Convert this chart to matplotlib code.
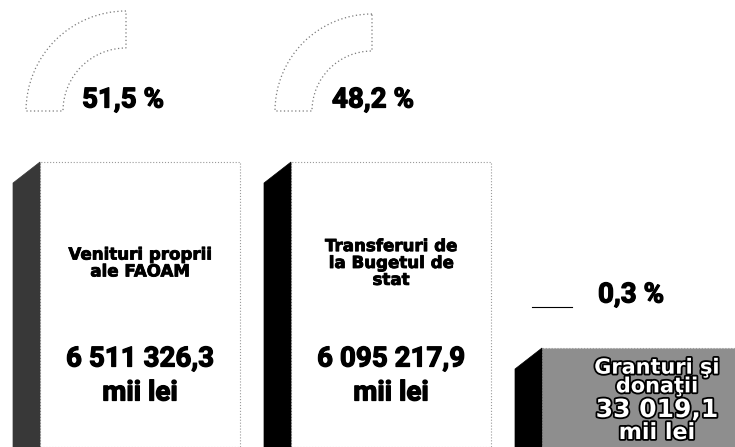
import matplotlib
matplotlib.use("Agg")
import matplotlib.pyplot as plt
from matplotlib.patches import Polygon, Wedge
import matplotlib.patheffects as pe

# ---- data ----
categories = ["Venituri proprii\nale FAOAM", "Transferuri de\nla Bugetul de\nstat", "Granturi şi\ndonaţii"]
amounts = ["6 511 326,3", "6 095 217,9", "33 019,1"]
unit = "mii lei"
shares = ["51,5 %", "48,2 %", "0,3 %"]
bar_heights = [285, 285, 99]   # visual heights in the infographic (px units)

plt.rcParams['font.family'] = ['Roboto', 'DejaVu Sans']

W, H = 735, 447
fig = plt.figure(figsize=(W / 100, H / 100), dpi=100)
ax = fig.add_axes([0, 0, 1, 1])
step = 251.0
x0px = 140.0
ax.set_xlim((0 - x0px) / step, (W - x0px) / step)
ax.set_ylim(0, H)
ax.axis('off')

deco = fig.add_axes([0, 0, 1, 1], zorder=3)
deco.set_xlim(0, W)
deco.set_ylim(0, H)
deco.axis('off')
deco.patch.set_alpha(0)

bw = 200 / step
dx, dy = 27 / step, 21
xs = list(range(len(categories)))
front_colors = ['white', 'white', '#8e8e8e']
side_colors = ['#383838', '#000000', '#000000']

bars = ax.bar(xs, bar_heights, width=bw, bottom=0, color=front_colors,
              edgecolor='#9a9a9a', linewidth=0.8, linestyle=':', zorder=2)
for b, sc in zip(bars, side_colors):
    xl = b.get_x()
    h = b.get_height()
    ax.add_patch(Polygon([(xl - dx, 0), (xl - dx, h - dy), (xl, h), (xl, 0)],
                         closed=True, facecolor=sc, edgecolor=sc, linewidth=0.5, zorder=3))

label_font = ['DejaVu Sans']
num_font = ['Roboto', 'DejaVu Sans']
heavy = [pe.withStroke(linewidth=0.9, foreground='black')]
heavy_lbl = [pe.withStroke(linewidth=0.6, foreground='black')]

# bars 1 and 2 text
for i in range(2):
    h = bar_heights[i]
    ax.text(xs[i], h - 101, categories[i], fontsize=12, linespacing=0.92, zorder=4,
            family=label_font, fontweight='bold', ha='center', va='center', path_effects=heavy_lbl)
    ax.text(xs[i], h - 197, amounts[i], fontsize=20, zorder=4, path_effects=heavy,
            family=num_font, fontweight='bold', ha='center', va='center')
    ax.text(xs[i], h - 231, unit, fontsize=20, zorder=4, path_effects=heavy,
            family=num_font, fontweight='bold', ha='center', va='center')

# bar 3 text (white with dark outline on gray texture)
outline = [pe.withStroke(linewidth=2.6, foreground='black')]
cx3 = xs[2] + 0.06
ax.text(cx3, bar_heights[2] - 29, categories[2], fontsize=15, linespacing=0.92,
        family=label_font, fontweight='bold', color='white', ha='center', va='center',
        zorder=4, path_effects=outline)
ax.text(cx3, bar_heights[2] - 62, amounts[2], fontsize=18,
        family=label_font, fontweight='bold', color='white', ha='center', va='center',
        zorder=4, path_effects=outline)
ax.text(cx3, bar_heights[2] - 85, unit, fontsize=16,
        family=label_font, fontweight='bold', color='white', ha='center', va='center',
        zorder=4, path_effects=outline)

# gauges (quarter rings) and share labels
for cx, r in ((126, 100), (372, 97)):
    deco.add_patch(Wedge((cx, 336), r, 90, 180, width=37, fill=False,
                         edgecolor='#7a7a7a', linewidth=0.9, linestyle=(0, (1, 2))))
share_pos = [(82, 347), (332, 347), (598, 152)]
for (px, py), s in zip(share_pos, shares):
    deco.text(px, py, s, fontsize=20, family=num_font, fontweight='bold',
              ha='left', va='center', path_effects=heavy)
deco.plot([532, 572], [140, 140], color='black', linewidth=0.8)

fig.savefig("out.png", dpi=100)
